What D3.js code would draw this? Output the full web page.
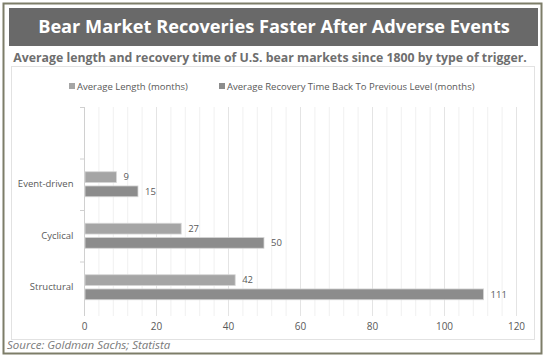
<!DOCTYPE html>
<html>
<head>
<meta charset="utf-8">
<script src="https://cdn.jsdelivr.net/npm/d3@7"></script>
<style>
  body { margin: 0; background: #fff; }
  svg { display: block; font-family: "Open Sans", sans-serif; }
</style>
</head>
<body>
<div class="chart"></div>
<script>
const categories = ["Event-driven", "Cyclical", "Structural"];
const seriesNames = ["Average Length (months)", "Average Recovery Time Back To Previous Level (months)"];
const avgLength = [9, 27, 42];
const avgRecovery = [15, 50, 111];
const xTicks = [0, 20, 40, 60, 80, 100, 120];

const W = 548, H = 362;
const colors = ["#a5a5a5", "#8c8c8c"];
const textColor = "#595959";

const svg = d3.select(".chart").append("svg")
  .attr("width", W)
  .attr("height", H);

// outer frame
svg.append("rect")
  .attr("x", 3.5).attr("y", 3.5)
  .attr("width", 538).attr("height", 350)
  .attr("fill", "#fff")
  .attr("stroke", "#7d7d68")
  .attr("stroke-width", 2);

// title banner
svg.append("rect")
  .attr("x", 9).attr("y", 8)
  .attr("width", 529).attr("height", 38)
  .attr("fill", "#696969");

svg.append("text")
  .attr("x", 274).attr("y", 33)
  .attr("text-anchor", "middle")
  .attr("fill", "#fff")
  .attr("font-size", 18.2)
  .attr("font-weight", "bold")
  .text("Bear Market Recoveries Faster After Adverse Events");

svg.append("text")
  .attr("x", 270).attr("y", 62)
  .attr("text-anchor", "middle")
  .attr("fill", "#6e6e6e")
  .attr("font-size", 12.3)
  .attr("font-weight", "bold")
  .text("Average length and recovery time of U.S. bear markets since 1800 by type of trigger.");

// chart box
svg.append("rect")
  .attr("x", 11.5).attr("y", 66.5)
  .attr("width", 523).attr("height", 273)
  .attr("fill", "none")
  .attr("stroke", "#e2e2e2");

// legend
const legend = svg.append("g").attr("font-size", 9.5).attr("fill", textColor);
const legendX = [69, 219];
seriesNames.forEach((name, i) => {
  legend.append("rect")
    .attr("x", legendX[i]).attr("y", 83)
    .attr("width", 6).attr("height", 6)
    .attr("fill", colors[i]);
  legend.append("text")
    .attr("x", legendX[i] + 8).attr("y", 89.5)
    .text(name);
});

// plot
const plot = {left: 84, right: 516, top: 107, bottom: 313};

const xScale = d3.scaleLinear()
  .domain([0, 120])
  .range([plot.left, plot.right]);

// an empty band sits above the first category, as in the original
const yScale = d3.scaleBand()
  .domain(["", ...categories])
  .range([plot.top, plot.bottom]);

const inner = d3.scaleBand()
  .domain([0, 1])
  .range([0, 25])
  .paddingInner(0.24);

// gridlines (minor every 4, major every 20)
const minor = d3.range(0, 121, 4);
svg.append("g")
  .selectAll("line")
  .data(minor)
  .join("line")
  .attr("x1", d => xScale(d) + 0.5)
  .attr("x2", d => xScale(d) + 0.5)
  .attr("y1", plot.top)
  .attr("y2", plot.bottom + 3)
  .attr("stroke", d => d % 20 === 0 ? "#e4e4e4" : "#f0f0f0");

// x axis
svg.append("g")
  .attr("transform", `translate(0, ${plot.bottom})`)
  .call(d3.axisBottom(xScale).tickValues(xTicks).tickSize(0).tickPadding(10))
  .call(g => g.select(".domain").remove())
  .call(g => g.selectAll(".tick text")
    .attr("fill", textColor)
    .attr("font-size", 10)
    .attr("font-family", "Open Sans, sans-serif"));

// y axis
svg.append("g")
  .attr("transform", `translate(${plot.left + 0.5}, 0)`)
  .call(d3.axisLeft(yScale).tickSize(0).tickPadding(11))
  .call(g => g.select(".domain").attr("stroke", "#d0d0d0").attr("d", `M0,${plot.top}V${plot.bottom + 3}`))
  .call(g => g.selectAll(".tick text")
    .attr("fill", textColor)
    .attr("font-size", 9.5)
    .attr("font-family", "Open Sans, sans-serif"));

// category separators on the y axis
svg.append("g")
  .selectAll("line")
  .data(yScale.domain())
  .join("line")
  .attr("x1", plot.left - 4).attr("x2", plot.left)
  .attr("y1", d => yScale(d) + 0.5)
  .attr("y2", d => yScale(d) + 0.5)
  .attr("stroke", "#d0d0d0");

// bars
const rows = categories.map((c, i) => ({cat: c, values: [avgLength[i], avgRecovery[i]]}));
const groups = svg.append("g")
  .selectAll("g")
  .data(rows)
  .join("g")
  .attr("transform", d => `translate(0, ${yScale(d.cat) + (yScale.bandwidth() - 25) / 2})`);

groups.selectAll("rect")
  .data(d => d.values.map((v, i) => ({v, i})))
  .join("rect")
  .attr("x", xScale(0) + 1)
  .attr("y", d => inner(d.i))
  .attr("width", d => xScale(d.v) - xScale(0) - 1)
  .attr("height", inner.bandwidth())
  .attr("fill", d => colors[d.i])
  .attr("stroke", "#d6d6d6")
  .attr("stroke-width", 0.8);

groups.selectAll("text")
  .data(d => d.values.map((v, i) => ({v, i})))
  .join("text")
  .attr("x", d => xScale(d.v) + 7)
  .attr("y", d => inner(d.i) + inner.bandwidth() / 2)
  .attr("dy", "0.35em")
  .attr("fill", textColor)
  .attr("font-size", 9.5)
  .text(d => d.v);

// source
svg.append("text")
  .attr("x", 7).attr("y", 349)
  .attr("fill", "#7a7a7a")
  .attr("font-size", 11.5)
  .attr("font-style", "italic")
  .text("Source: Goldman Sachs; Statista");
</script>
</body>
</html>
